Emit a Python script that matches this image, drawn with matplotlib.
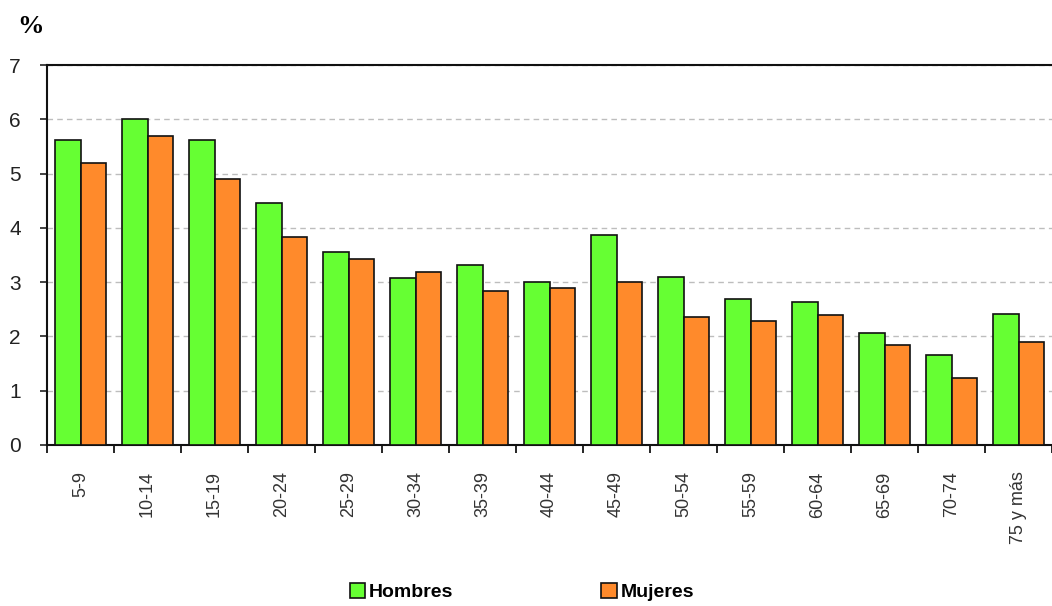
import matplotlib.pyplot as plt
import numpy as np
from matplotlib.patches import Patch

# Datos por grupo de edad
grupos = ['5-9', '10-14', '15-19', '20-24', '25-29', '30-34', '35-39', '40-44',
          '45-49', '50-54', '55-59', '60-64', '65-69', '70-74', '75 y más']
hombres = [5.61, 6.00, 5.61, 4.46, 3.55, 3.08, 3.31, 3.01, 3.87, 3.10, 2.69, 2.63, 2.07, 1.66, 2.42]
mujeres = [5.20, 5.70, 4.90, 3.83, 3.43, 3.19, 2.84, 2.90, 3.01, 2.36, 2.28, 2.39, 1.84, 1.24, 1.89]

color_h = '#66ff33'
color_m = '#ff8a2b'

plt.rcParams['font.family'] = ['Liberation Sans', 'DejaVu Sans']

fig = plt.figure(figsize=(10.52, 6.06), dpi=100)
ax = fig.add_axes([0.0447, 0.2657, 0.9553, 0.627])

x = np.arange(len(grupos))
ancho = 0.385
ax.bar(x - ancho / 2, hombres, ancho, color=color_h, edgecolor='#111111', linewidth=1.2, zorder=3)
ax.bar(x + ancho / 2, mujeres, ancho, color=color_m, edgecolor='#111111', linewidth=1.2, zorder=3)

ax.set_xlim(-0.5, len(grupos) - 0.5)
ax.set_ylim(0, 7)

# Rejilla horizontal discontinua
ax.set_yticks(range(0, 8))
ax.yaxis.grid(True, linestyle=(0, (4, 3)), color='#bdbdbd', linewidth=1.0, zorder=0)
ax.tick_params(axis='y', labelsize=15, length=5, width=1.2, colors='#222222', pad=14)

# Etiquetas centradas, marcas en los límites de cada grupo
ax.set_xticks(x)
ax.set_xticklabels(grupos, rotation=90, fontsize=13, color='#333333')
ax.set_xticks(np.arange(-0.5, len(grupos)), minor=True)
ax.tick_params(axis='x', which='major', length=0, pad=19)
ax.tick_params(axis='x', which='minor', length=6, width=1.2, direction='out')

for lado in ['left', 'top', 'bottom']:
    ax.spines[lado].set_color('#111111')
    ax.spines[lado].set_linewidth(1.5)
ax.spines['right'].set_visible(False)

fig.text(0.016, 0.946, '%', fontsize=19, fontweight='bold', family=['Liberation Serif'])

handles = [Patch(facecolor=color_h, edgecolor='#111111', linewidth=1.2, label='Hombres'),
           Patch(facecolor=color_m, edgecolor='#111111', linewidth=1.2, label='Mujeres')]
fig.legend(handles=handles, loc='center', bbox_to_anchor=(0.496, 0.023), ncol=2,
           frameon=False, prop={'size': 14, 'weight': 'bold'},
           handlelength=0.8, handleheight=0.8, handletextpad=0.2, columnspacing=7.6)

fig.savefig('out.png', dpi=100)
